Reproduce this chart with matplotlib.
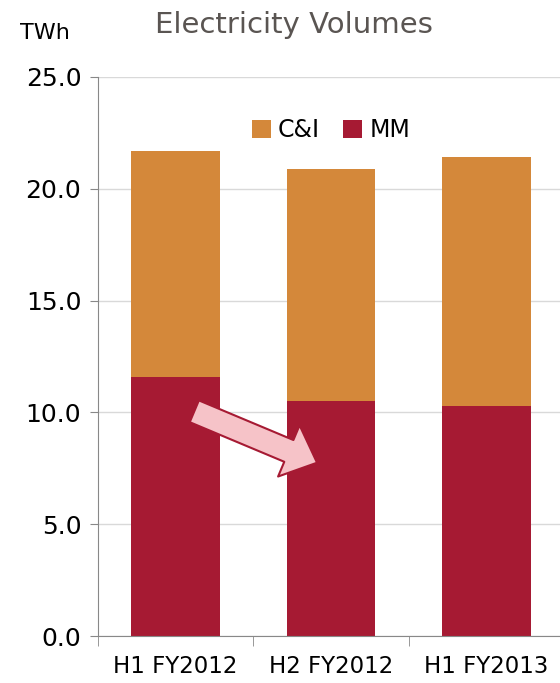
import numpy as np
import matplotlib
matplotlib.use("Agg")
import matplotlib.pyplot as plt

periods = ["H1 FY2012", "H2 FY2012", "H1 FY2013"]
mm = [11.6, 10.5, 10.3]
ci = [10.1, 10.4, 11.1]
yticks = [0, 5, 10, 15, 20, 25]

orange = "#D4883A"
red = "#A61A33"

plt.rcParams["font.family"] = ["DejaVu Sans"]

fig = plt.figure(figsize=(5.6, 6.83), dpi=100)
ax = fig.add_axes([98 / 560, 47 / 683, 466 / 560, 559 / 683])

x = np.arange(len(periods))
ax.bar(x, mm, width=0.57, color=red, label="MM", zorder=2)
ax.bar(x, ci, width=0.57, bottom=mm, color=orange, label="C&I", zorder=2)

ax.set_xlim(-0.5, 2.5)
ax.set_ylim(0, 25)
ax.set_yticks(yticks)
ax.set_yticklabels([f"{v:.1f}" for v in yticks], fontsize=18)
ax.grid(axis="y", color="#d9d9d9", linewidth=1, zorder=0)

ax.set_xticks(x)
ax.set_xticklabels(periods, fontsize=16.5)
ax.set_xticks([-0.5, 0.5, 1.5, 2.5], minor=True)
ax.tick_params(axis="x", which="major", length=0, pad=14)
ax.tick_params(axis="x", which="minor", length=7, color="#888888")
ax.tick_params(axis="y", length=6, color="#888888", pad=6)

for s in ["top", "right"]:
    ax.spines[s].set_visible(False)
for s in ["left", "bottom"]:
    ax.spines[s].set_color("#888888")

# arrow showing MM decline
ax.annotate("", xy=(0.91, 7.75), xytext=(0.12, 10.05),
            arrowprops=dict(arrowstyle="simple,head_length=1.1,head_width=2.0,tail_width=0.85",
                            mutation_scale=20, facecolor="#F6C3C8", edgecolor=red,
                            linewidth=1.5, shrinkA=0, shrinkB=0),
            zorder=3)

handles, labels = ax.get_legend_handles_labels()
ax.legend(handles[::-1], labels[::-1], loc="upper center", bbox_to_anchor=(0.5, 0.965),
          ncol=2, frameon=False, fontsize=17, handlelength=0.8, handleheight=0.8,
          handletextpad=0.3, columnspacing=1.0)

fig.text(294 / 560, 1 - 25 / 683, "Electricity Volumes", ha="center", va="center",
         fontsize=21, color="#5a5552")
fig.text(45 / 560, 1 - 33 / 683, "TWh", ha="center", va="center", fontsize=16)

fig.savefig("out.png", dpi=100)
